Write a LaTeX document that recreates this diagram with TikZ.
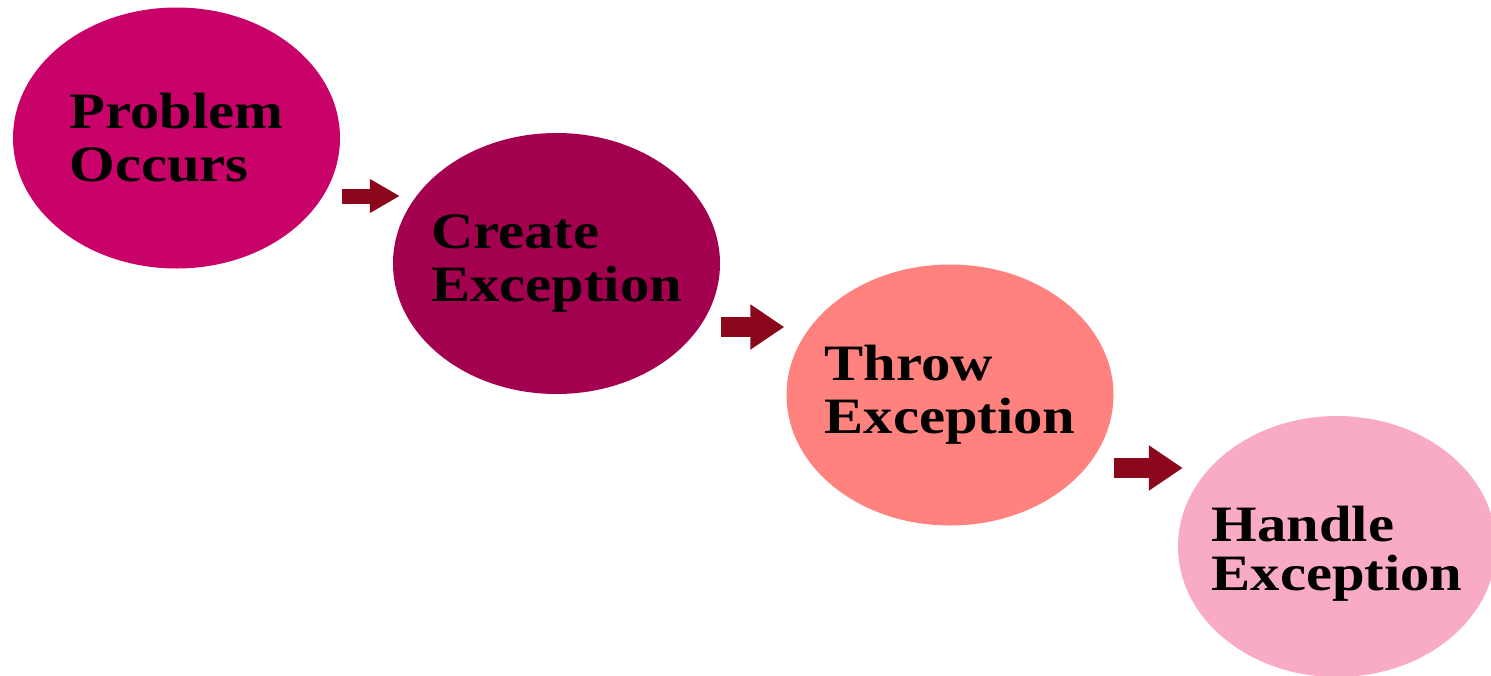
\documentclass[tikz,border=0pt]{standalone}
\usepackage{fontspec}
\newfontfamily\stagefont[FakeStretch=1.15]{Liberation Serif}
\usetikzlibrary{shapes.geometric,arrows.meta}
\definecolor{problemcol}{RGB}{200,2,104}
\definecolor{createcol}{RGB}{163,0,80}
\definecolor{throwcol}{RGB}{255,130,126}
\definecolor{handlecol}{RGB}{249,170,196}
\definecolor{flowcol}{RGB}{139,8,28}
\begin{document}
\begin{tikzpicture}[x=1pt,y=-1pt,
  stage/.style={ellipse,minimum width=327pt,minimum height=261pt,
    inner xsep=-90pt,inner ysep=-40pt,align=left,
    font=\stagefont\bfseries\fontsize{51}{53}\selectfont},
  flow/.style={draw=flowcol,line width=20pt,-{Triangle[length=34pt,width=43pt]}}]
  \useasboundingbox (0,0) rectangle (1491,675);
  \node[stage,fill=problemcol] (problem) at (176.5,138) {Problem\\Occurs};
  \node[stage,fill=createcol] (create) at (556.5,263.5) {Create\\Exception};
  \node[stage,fill=throwcol] (throw) at (950,395) {Throw\\Exception};
  \node[stage,fill=handlecol,minimum width=318pt,text height=100pt,text depth=12pt,
    font=\stagefont\bfseries\fontsize{51}{49}\selectfont] (handle) at (1337,546.5) {Handle\\Exception};
  \draw[flow,line width=15pt,-{Triangle[length=30pt,width=32pt]}]
    ([xshift=2pt,yshift=-58pt]problem.east) -- ([xshift=7pt,yshift=67.5pt]create.west);
  \draw[flow] ([xshift=1pt,yshift=-63.5pt]create.east) -- ([xshift=-2pt,yshift=68pt]throw.west);
  \draw[flow] ([yshift=-73pt]throw.east) -- ([xshift=5pt,yshift=78.5pt]handle.west);
\end{tikzpicture}
\end{document}
